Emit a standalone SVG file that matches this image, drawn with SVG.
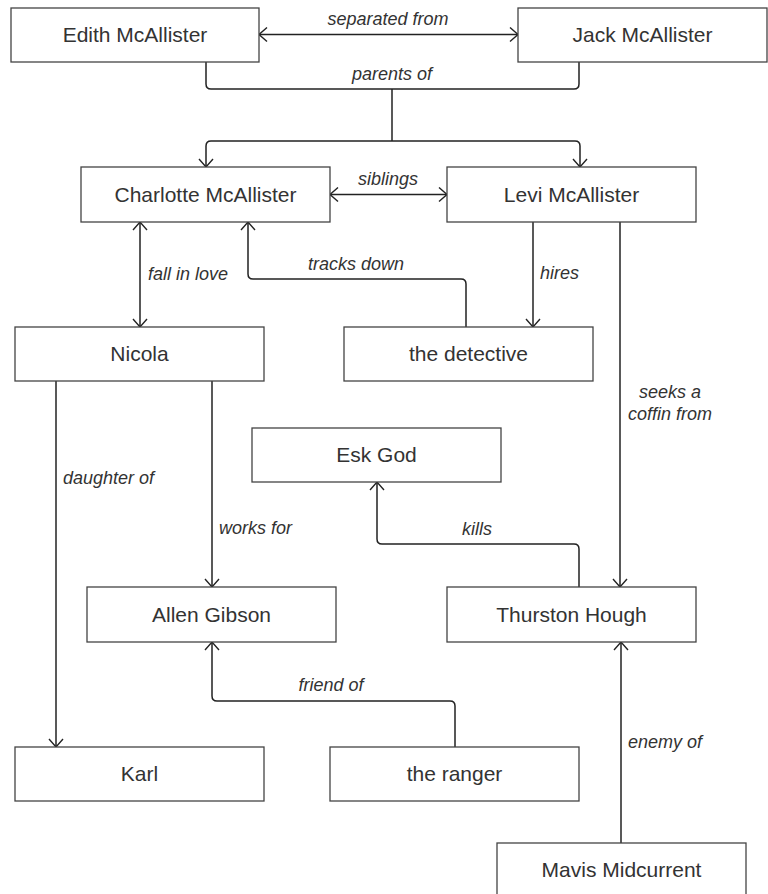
<svg xmlns="http://www.w3.org/2000/svg" width="768" height="894" viewBox="0 0 768 894">
<defs>
<style>
.box{fill:#fff;stroke:#444;stroke-width:1.3}
.nt{font-family:"Liberation Sans",Arial,sans-serif;font-size:21px;fill:#333;text-anchor:middle}
.el{fill:none;stroke:#222;stroke-width:1.5}
.lb{font-family:"Liberation Sans",Arial,sans-serif;font-size:18px;font-style:italic;fill:#333}
.m{text-anchor:middle}
</style>
<marker id="a" viewBox="-10 -8 12 16" refX="0" refY="0" markerWidth="12" markerHeight="16" markerUnits="userSpaceOnUse" orient="auto-start-reverse">
<path d="M-8,-7 L0,0 L-8,7" fill="none" stroke="#222" stroke-width="1.4"/>
</marker>
</defs>
<rect width="768" height="894" fill="#fff"/>
<g id="connectors">
<path class="el" d="M259,34.5 H518" marker-start="url(#a)" marker-end="url(#a)"/>
<path class="el" d="M206,62 V84 Q206,89 211,89 H574 Q579,89 579,84 V62"/>
<path class="el" d="M392,89 V141"/>
<path class="el" d="M392,141 H211 Q206,141 206,146 V167" marker-end="url(#a)"/>
<path class="el" d="M392,141 H575 Q580,141 580,146 V167" marker-end="url(#a)"/>
<path class="el" d="M330,194.5 H447" marker-start="url(#a)" marker-end="url(#a)"/>
<path class="el" d="M140,222 V327" marker-start="url(#a)" marker-end="url(#a)"/>
<path class="el" d="M466,327 V284 Q466,279 461,279 H253 Q248,279 248,274 V222" marker-end="url(#a)"/>
<path class="el" d="M533,222 V327" marker-end="url(#a)"/>
<path class="el" d="M620,222 V587" marker-end="url(#a)"/>
<path class="el" d="M56,381 V747" marker-end="url(#a)"/>
<path class="el" d="M212,381 V587" marker-end="url(#a)"/>
<path class="el" d="M579,587 V549 Q579,544 574,544 H382 Q377,544 377,539 V482" marker-end="url(#a)"/>
<path class="el" d="M455,747 V706 Q455,701 450,701 H217 Q212,701 212,696 V642" marker-end="url(#a)"/>
<path class="el" d="M621,843 V642" marker-end="url(#a)"/>
<text class="lb m" x="388" y="25">separated from</text>
<text class="lb m" x="392" y="80">parents of</text>
<text class="lb m" x="388" y="185">siblings</text>
<text class="lb" x="148" y="280">fall in love</text>
<text class="lb m" x="356" y="270">tracks down</text>
<text class="lb" x="540" y="279">hires</text>
<text class="lb m" x="670" y="398">seeks a</text>
<text class="lb m" x="670" y="420">coffin from</text>
<text class="lb" x="63" y="484">daughter of</text>
<text class="lb" x="219" y="534">works for</text>
<text class="lb m" x="477" y="535">kills</text>
<text class="lb m" x="331" y="691">friend of</text>
<text class="lb" x="628" y="748">enemy of</text>
</g>
<g id="edith"><rect class="box" x="11" y="8" width="248" height="54"/><text class="nt" x="135" y="42">Edith McAllister</text></g>
<g id="jack"><rect class="box" x="518" y="8" width="249" height="54"/><text class="nt" x="642.5" y="42">Jack McAllister</text></g>
<g id="charlotte"><rect class="box" x="81" y="167" width="249" height="55"/><text class="nt" x="205.5" y="201.5">Charlotte McAllister</text></g>
<g id="levi"><rect class="box" x="447" y="167" width="249" height="55"/><text class="nt" x="571.5" y="201.5">Levi McAllister</text></g>
<g id="nicola"><rect class="box" x="15" y="327" width="249" height="54"/><text class="nt" x="139.5" y="361">Nicola</text></g>
<g id="detective"><rect class="box" x="344" y="327" width="249" height="54"/><text class="nt" x="468.5" y="361">the detective</text></g>
<g id="eskgod"><rect class="box" x="252" y="428" width="249" height="54"/><text class="nt" x="376.5" y="462">Esk God</text></g>
<g id="allen"><rect class="box" x="87" y="587" width="249" height="55"/><text class="nt" x="211.5" y="621.5">Allen Gibson</text></g>
<g id="thurston"><rect class="box" x="447" y="587" width="249" height="55"/><text class="nt" x="571.5" y="621.5">Thurston Hough</text></g>
<g id="karl"><rect class="box" x="15" y="747" width="249" height="54"/><text class="nt" x="139.5" y="781">Karl</text></g>
<g id="ranger"><rect class="box" x="330" y="747" width="249" height="54"/><text class="nt" x="454.5" y="781">the ranger</text></g>
<g id="mavis"><rect class="box" x="497" y="843" width="249" height="54"/><text class="nt" x="621.5" y="877">Mavis Midcurrent</text></g>
</svg>
